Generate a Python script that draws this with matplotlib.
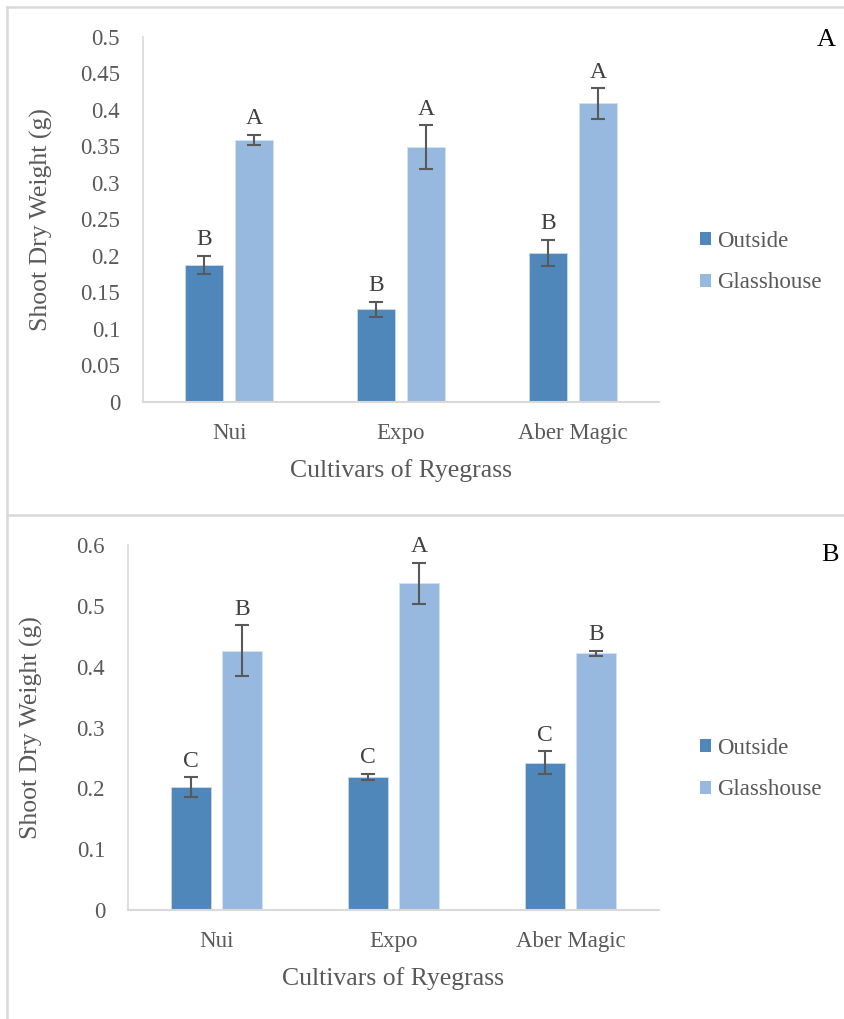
import matplotlib
matplotlib.use("Agg")
import matplotlib.pyplot as plt
from matplotlib.patches import Patch
from matplotlib.lines import Line2D
import numpy as np

# ---- data ----
cultivars = ["Nui", "Expo", "Aber Magic"]
series = ["Outside", "Glasshouse"]

a_outside = [0.188, 0.127, 0.204]
a_outside_err = [0.012, 0.010, 0.018]
a_glass = [0.359, 0.349, 0.409]
a_glass_err = [0.007, 0.030, 0.021]
a_out_letters = ["B", "B", "B"]
a_glass_letters = ["A", "A", "A"]
a_yticks = [0, 0.05, 0.1, 0.15, 0.2, 0.25, 0.3, 0.35, 0.4, 0.45, 0.5]
a_yticklabels = ["0", "0.05", "0.1", "0.15", "0.2", "0.25", "0.3", "0.35", "0.4", "0.45", "0.5"]

b_outside = [0.202, 0.219, 0.242]
b_outside_err = [0.016, 0.005, 0.019]
b_glass = [0.426, 0.537, 0.422]
b_glass_err = [0.042, 0.034, 0.004]
b_out_letters = ["C", "C", "C"]
b_glass_letters = ["B", "A", "B"]
b_yticks = [0, 0.1, 0.2, 0.3, 0.4, 0.5, 0.6]
b_yticklabels = ["0", "0.1", "0.2", "0.3", "0.4", "0.5", "0.6"]

# ---- style ----
FONT = "Liberation Serif"
TXT = "#595959"
C_OUT = "#4F87BA"
C_GLASS = "#97B8DF"
GRID = "#D9D9D9"
plt.rcParams["font.family"] = [FONT, "DejaVu Serif"]

W, H = 845, 1019
fig = plt.figure(figsize=(W / 100, H / 100), dpi=100)


def px_axes(left, top, right, bottom):
    return fig.add_axes([left / W, 1 - bottom / H, (right - left) / W, (bottom - top) / H])


def draw_panel(ax, outside, oerr, glass, gerr, olet, glet, yticks, yticklabels, ymax,
               ylabel_x, panel_letter, letter_pos, legend_y):
    x = np.arange(len(cultivars))
    bw = 0.225
    off = 0.145
    ekw = dict(ecolor="#595959", elinewidth=1.5, capsize=5, capthick=1.5)
    ax.bar(x - off, outside, bw, color=C_OUT, edgecolor="#C9D9EE", linewidth=0.6,
           yerr=oerr, error_kw=ekw, zorder=2)
    ax.bar(x + off, glass, bw, color=C_GLASS, edgecolor="#D5E2F2", linewidth=0.6,
           yerr=gerr, error_kw=ekw, zorder=2)
    for xi, v, e, t in zip(x - off, outside, oerr, olet):
        ax.annotate(t, (xi, v + e), xytext=(0, 4), textcoords="offset points",
                    ha="center", va="bottom", fontsize=17, color="#404040")
    for xi, v, e, t in zip(x + off, glass, gerr, glet):
        ax.annotate(t, (xi, v + e), xytext=(0, 4), textcoords="offset points",
                    ha="center", va="bottom", fontsize=17, color="#404040")
    ax.set_xlim(-0.5, len(cultivars) - 0.5)
    ax.set_ylim(0, ymax)
    ax.set_yticks(yticks)
    ax.set_yticklabels(yticklabels)
    ax.set_xticks(x)
    ax.set_xticklabels(cultivars)
    ax.tick_params(axis="y", length=0, pad=16.5, labelsize=16.5, labelcolor=TXT)
    ax.tick_params(axis="x", length=0, pad=15, labelsize=16.5, labelcolor=TXT)
    for s in ["top", "right"]:
        ax.spines[s].set_visible(False)
    ax.spines["left"].set_color(GRID)
    ax.spines["bottom"].set_color(GRID)
    ax.spines["left"].set_linewidth(1.2)
    ax.spines["bottom"].set_linewidth(1.5)
    ax.set_ylabel("Shoot Dry Weight (g)", fontsize=18.5, color=TXT)
    ax.yaxis.set_label_coords(ylabel_x, 0.5)
    ax.set_xlabel("Cultivars of Ryegrass", fontsize=18.5, color=TXT, labelpad=11)
    fig.text(letter_pos[0] / W, 1 - letter_pos[1] / H, panel_letter, fontsize=19,
             color="black", ha="center", va="center")
    handles = [Patch(facecolor=C_OUT, edgecolor="none"),
               Patch(facecolor=C_GLASS, edgecolor="none")]
    fig.legend(handles, series, loc="center left",
               bbox_to_anchor=(700 / W, 1 - legend_y / H), frameon=False,
               fontsize=16.5, labelcolor=TXT, handlelength=0.5, handleheight=0.5,
               handletextpad=0.25, labelspacing=0.9, borderpad=0, borderaxespad=0)


ax1 = px_axes(143, 37, 659, 402)
draw_panel(ax1, a_outside, a_outside_err, a_glass, a_glass_err, a_out_letters,
           a_glass_letters, a_yticks, a_yticklabels, 0.5, -0.175, "A", (826, 40), 262)

ax2 = px_axes(128, 545, 659, 910)
draw_panel(ax2, b_outside, b_outside_err, b_glass, b_glass_err, b_out_letters,
           b_glass_letters, b_yticks, b_yticklabels, 0.6, -0.16, "B", (830, 555), 769)

# ---- frame lines ----
def fig_line(x0, y0, x1, y1):
    fig.add_artist(Line2D([x0 / W, x1 / W], [1 - y0 / H, 1 - y1 / H], color=GRID,
                          linewidth=1.8, transform=fig.transFigure))

fig_line(7, 7, W, 7)
fig_line(7, 7, 7, H)
fig_line(7, 515, W, 515)

fig.savefig("out.png", dpi=100)
